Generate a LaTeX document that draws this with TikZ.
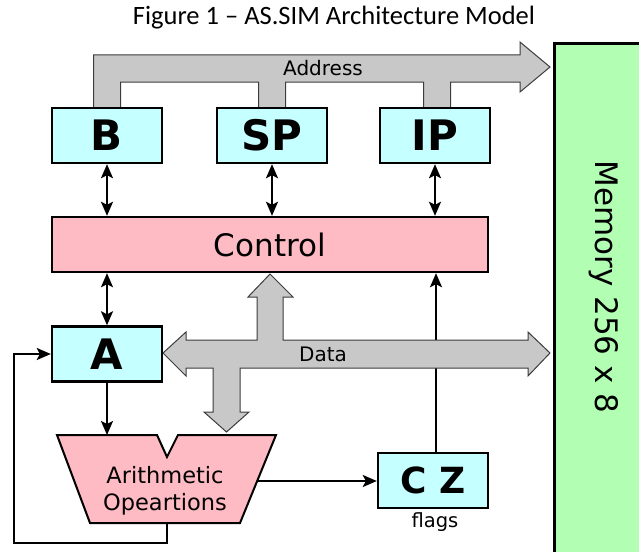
\documentclass[tikz,border=0pt]{standalone}
\usepackage{fontspec}
\setmainfont{DejaVu Sans}
\newfontfamily\titlefont{Carlito}
\usetikzlibrary{arrows.meta}
\definecolor{regcyan}{RGB}{198,255,255}
\definecolor{ctlpink}{RGB}{255,187,196}
\definecolor{memgreen}{RGB}{178,255,180}
\definecolor{busgray}{RGB}{200,200,200}
\definecolor{busedge}{RGB}{60,60,60}
\begin{document}
\begin{tikzpicture}[x=1pt,y=-1pt,
  reg/.style={draw=black, line width=2.4pt, fill=regcyan, minimum width=110pt,
    minimum height=55pt, inner sep=0pt, font=\fontsize{42}{42}\selectfont\bfseries},
  ctlbox/.style={draw=black, line width=2.4pt, fill=ctlpink, minimum width=436pt,
    minimum height=55pt, inner sep=0pt, font=\fontsize{31}{31}\selectfont},
  bus/.style={draw=busedge, line width=1pt, fill=busgray, line join=miter},
  wire/.style={draw=black, line width=2pt},
  head/.style={Stealth[length=14pt, width=12pt, inset=3pt]},
  tip/.style={wire, -{Stealth[length=14pt, width=12pt, inset=3pt]}},
  dbltip/.style={wire, {Stealth[length=14pt, width=12pt, inset=3pt]}-{Stealth[length=14pt, width=12pt, inset=3pt]}},
  buslabel/.style={font=\fontsize{20}{20}\selectfont},
]
\useasboundingbox (0,0) rectangle (639,551);

% title
\node[font=\titlefont\fontsize{26.5}{26.5}\selectfont] (title) at (334,18)
  {Figure 1 – AS.SIM Architecture Model};

% memory block
\node[draw=black, line width=3pt, fill=memgreen, minimum width=100pt,
  minimum height=520pt, inner sep=0pt, anchor=north west] (mem) at (553,42) {};
\node[rotate=-90, font=\fontsize{31}{31}\selectfont] (memlabel) at (604,287)
  {Memory 256 x 8};

% address bus
\draw[bus] (93.5,110) -- (93.5,55) -- (520,55) -- (520,42) -- (550,67) -- (520,92)
  -- (520,82) -- (450.5,82) -- (450.5,110) -- (423.5,110) -- (423.5,82)
  -- (285.5,82) -- (285.5,110) -- (258.5,110) -- (258.5,82)
  -- (120.5,82) -- (120.5,110) -- cycle;
\node[buslabel] (addr) at (323,68) {Address};

% registers and control unit
\node[reg] (B)  at (107,135.5) {B};
\node[reg] (SP) at (272,135.5) {SP};
\node[reg] (IP) at (435,135.5) {IP};
\node[ctlbox] (ctrl) at (270,244.5) {Control};
\node[reg] (A)  at (107,354) {A};
\node[reg, font=\fontsize{36}{36}\selectfont\bfseries] (CZ) at (433,480.5) {C Z};
\node[font=\fontsize{19.5}{19.5}\selectfont] (flags) at (435,522) {flags};

\draw[dbltip] (B.south) -- (B.south |- ctrl.north);
\draw[dbltip] (SP.south) -- (SP.south |- ctrl.north);
\draw[dbltip] (IP.south) -- (IP.south |- ctrl.north);
\draw[dbltip] (ctrl.south -| A.north) -- (A.north);

% flags feed back to control (passes under the data bus)
\draw[tip] ([xshift=3pt]CZ.north) -- ([xshift=3pt]CZ.north |- ctrl.south);

% data bus
\draw[bus] (163,353) -- (186,332) -- (186,340) -- (257,340) -- (257,297)
  -- (248,297) -- (270,274) -- (293,297) -- (283,297) -- (283,340)
  -- (528,340) -- (528,332) -- (550,353) -- (528,376) -- (528,368)
  -- (240,368) -- (240,412) -- (249,412) -- (226.5,432) -- (204,412)
  -- (213,412) -- (213,368) -- (186,368) -- (186,376) -- cycle;
\node[buslabel] (data) at (323,354) {Data};

% arithmetic unit
\draw[draw=black, line width=2pt, fill=ctlpink, line join=miter]
  (57,435) -- (157,435) -- (167,457) -- (178,435) -- (276,435)
  -- (240,523) -- (90,523) -- cycle;
\node[font=\fontsize{22.5}{27}\selectfont, align=center] (alu) at (165,491)
  {Arithmetic\\Opeartions};
\coordinate (alutop) at (107,435);
\coordinate (aluout) at (257,481);
\coordinate (alubot) at (167,523);
\coordinate (loop) at (14,543);

\draw[tip] (A.south) -- (alutop);
\draw[tip] (aluout) -- (aluout -| CZ.west);
\draw[tip] (alubot) -- (alubot |- loop) -- (loop) -- (loop |- A.west) -- (A.west);
\end{tikzpicture}
\end{document}
